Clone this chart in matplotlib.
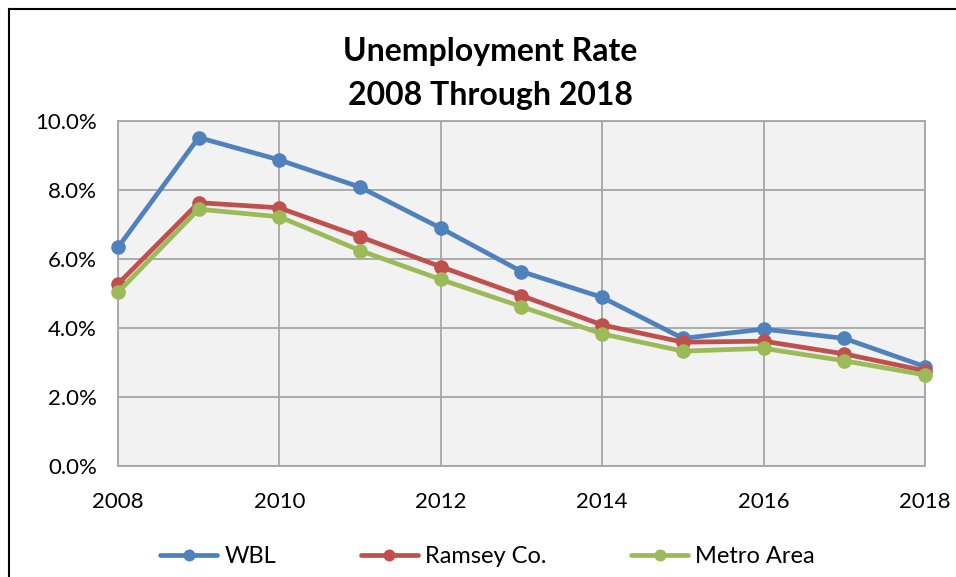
import numpy as np
import matplotlib.pyplot as plt
from matplotlib.lines import Line2D
from matplotlib.ticker import FuncFormatter

plt.rcParams['font.family'] = ['Lato', 'DejaVu Sans']

years = [2008, 2009, 2010, 2011, 2012, 2013, 2014, 2015, 2016, 2017, 2018]
wbl = [6.33, 9.52, 8.87, 8.08, 6.89, 5.63, 4.88, 3.69, 3.96, 3.69, 2.87]
ramsey = [5.27, 7.63, 7.48, 6.64, 5.77, 4.93, 4.08, 3.58, 3.61, 3.24, 2.75]
metro = [5.03, 7.44, 7.22, 6.24, 5.40, 4.61, 3.82, 3.32, 3.40, 3.04, 2.63]

series = [("WBL", wbl, "#4F81BD"),
          ("Ramsey Co.", ramsey, "#C0504D"),
          ("Metro Area", metro, "#9BBB59")]

fig = plt.figure(figsize=(9.56, 5.77), dpi=100)
ax = fig.add_axes([0.1234, 0.1932, 0.8442, 0.5971])
ax.set_facecolor("#F2F2F2")

for name, vals, col in series:
    ax.plot(years, vals, color=col, lw=3.4, marker="o", ms=9.5, label=name,
            solid_capstyle="round", clip_on=False, zorder=3)

ax.set_xlim(2008, 2018)
ax.set_ylim(0, 10)
ax.set_xticks(range(2008, 2019, 2))
ax.set_yticks(np.arange(0, 10.1, 2))
ax.yaxis.set_major_formatter(FuncFormatter(lambda v, p: "%.1f%%" % v))
ax.grid(True, color="#A6A6A6", lw=1.3, zorder=1)
ax.tick_params(length=0, labelsize=16, colors="black")
ax.tick_params(axis="x", pad=19)
ax.tick_params(axis="y", pad=15)
for s in ax.spines.values():
    s.set_color("#A6A6A6")
    s.set_linewidth(1.3)

fig.text(0.513, 0.91, "Unemployment Rate", ha="center", va="center",
         fontsize=23, fontweight="bold")
fig.text(0.513, 0.835, "2008 Through 2018", ha="center", va="center",
         fontsize=23, fontweight="bold")

fig.legend(loc="center", bbox_to_anchor=(0.51, 0.035), ncol=3, frameon=False,
           fontsize=17, handlelength=2.4, columnspacing=3.6, handletextpad=0.3,
           markerscale=0.8)

# frame edges of the chart area
fig.add_artist(Line2D([9 / 956, 9 / 956], [0, 1 - 9 / 577], color="black", lw=1.5))
fig.add_artist(Line2D([9 / 956, 1], [1 - 9 / 577, 1 - 9 / 577], color="black", lw=1.5))

fig.savefig("out.png", dpi=100)
